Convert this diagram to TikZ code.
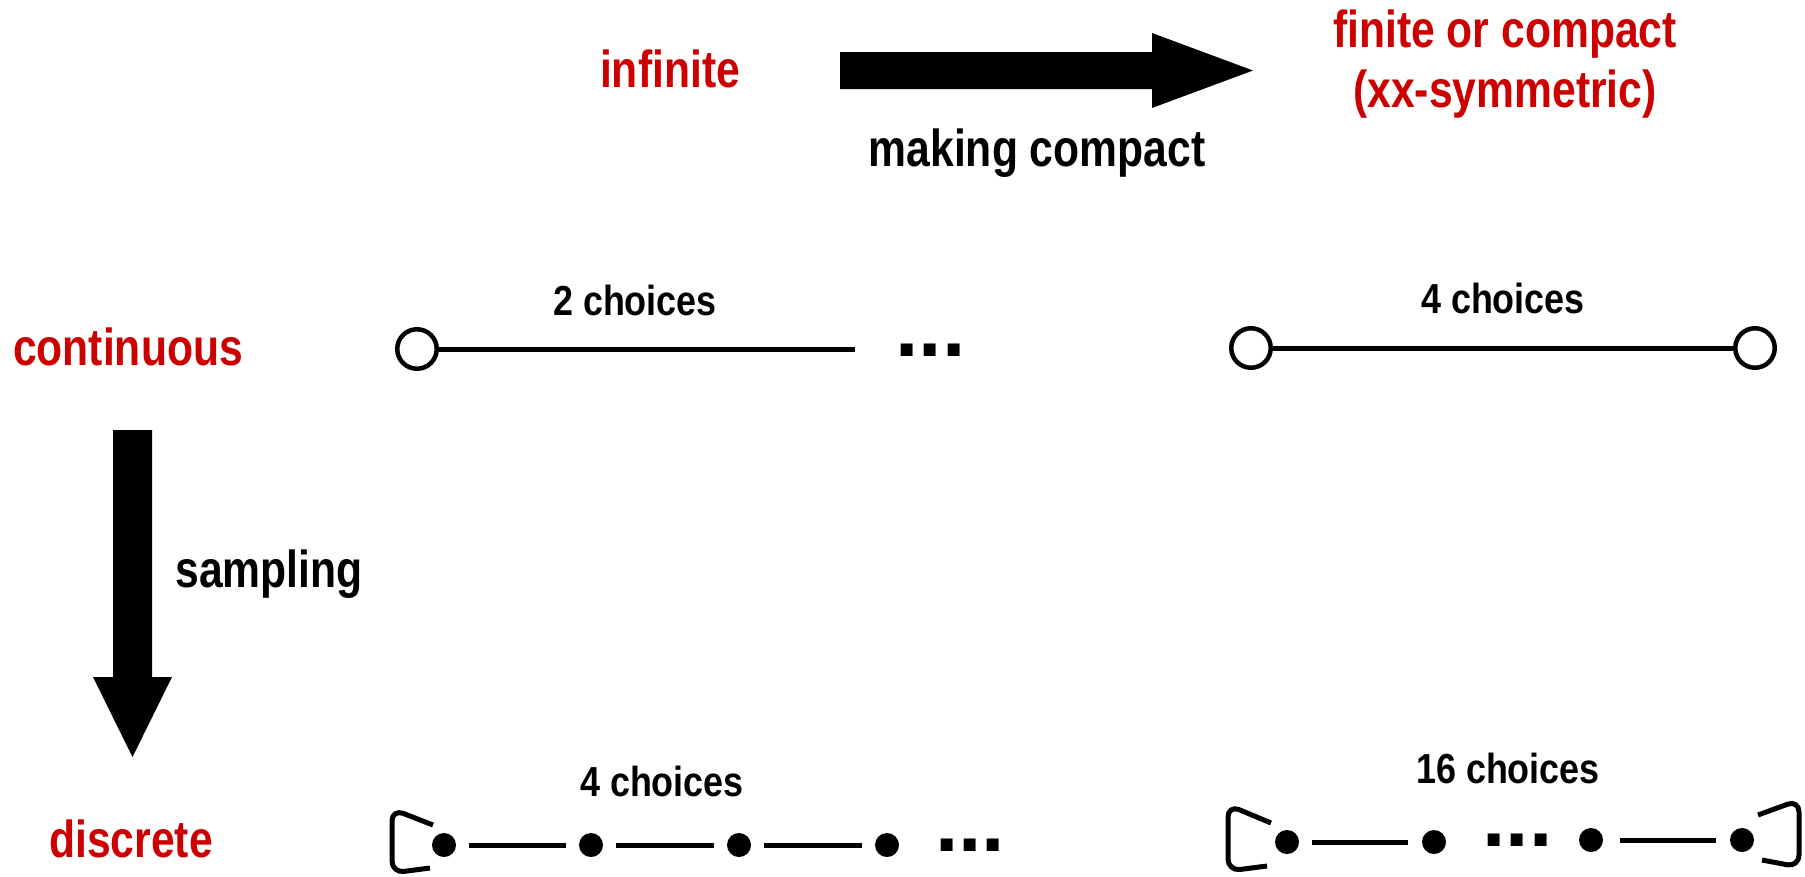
\documentclass[tikz,border=0pt]{standalone}
\usepackage{fontspec}
\setmainfont{Liberation Sans}
\newfontfamily\bigfont{Liberation Sans}[FakeStretch=0.82]
\newfontfamily\smallfont{Liberation Sans}[FakeStretch=0.855]
\usetikzlibrary{shapes.geometric}
\definecolor{lblred}{RGB}{204,0,0}
\tikzset{
  redlbl/.style={text=lblred, font=\bigfont\bfseries\fontsize{52}{60}\selectfont, inner sep=0, anchor=base, align=center},
  blacklbl/.style={font=\bigfont\bfseries\fontsize{52}{60}\selectfont, inner sep=0, anchor=base},
  choicelbl/.style={font=\smallfont\bfseries\fontsize{42}{46}\selectfont, inner sep=0, anchor=base},
  ellipsislbl/.style={font=\bfseries\fontsize{84}{90}\selectfont, inner sep=0, anchor=base, text height=12pt, text depth=0pt},
  opennode/.style={draw, circle, line width=4.5pt, minimum size=39.5pt, inner sep=0, fill=white},
  dotnode/.style={fill, circle, minimum size=24pt, inner sep=0, outer sep=0},
  edgeline/.style={line width=5pt},
  gapline/.style={line width=5pt, shorten <=13pt, shorten >=13pt},
  selfloop/.style={line width=5pt, rounded corners=12pt},
  blockarrow/.style={fill=black}
}
\begin{document}
\begin{tikzpicture}[x=1pt,y=-1pt]
\useasboundingbox (0,0) rectangle (1805,876);

% headers
\node[redlbl] (inf) at (670,87) {infinite};
\node[redlbl, anchor=north] (fin) at (1505,10) {finite or compact\\(xx-symmetric)};
\node[blacklbl] (mc) at (1037,166) {making compact};
\node[redlbl] (cont) at (128,365) {continuous};
\node[redlbl] (disc) at (131,857) {discrete};
\node[blacklbl] (samp) at (269,587) {sampling};

% block arrows
\fill[blockarrow] (840,52) -- (1152,52) -- (1152,33) -- (1253,70.5) -- (1152,108) -- (1152,89) -- (840,89) -- cycle;
\fill[blockarrow] (113,430) -- (152,430) -- (152,677) -- (172,677) -- (132.5,757) -- (93,677) -- (113,677) -- cycle;

% continuous infinite
\node[choicelbl] (l2) at (635,315) {2 choices};
\node[opennode] (c1) at (417,349) {};
\coordinate (c1end) at (854.5,349);
\draw[edgeline] (c1) -- (c1end);
\node[ellipsislbl] (el1) at (930.5,356) {...};

% continuous compact
\node[choicelbl] (l4a) at (1503,313) {4 choices};
\node[opennode] (c2) at (1251,348) {};
\node[opennode] (c3) at (1755,348) {};
\draw[edgeline] (c2) -- (c3);

% discrete infinite
\node[choicelbl] (l4b) at (662,796) {4 choices};
\node[dotnode] (d1) at (444,845) {};
\node[dotnode] (d2) at (591,845) {};
\node[dotnode] (d3) at (739,845) {};
\node[dotnode] (d4) at (887,845) {};
\draw[gapline] (d1) -- (d2);
\draw[gapline] (d2) -- (d3);
\draw[gapline] (d3) -- (d4);
\node[ellipsislbl] (el2) at (970,851) {...};
\draw[selfloop] ([shift={(-11,-20)}]d1.center) -- ([shift={(-52,-36)}]d1.center) -- ([shift={(-52,28)}]d1.center) -- ([shift={(-14,23)}]d1.center);

% discrete compact
\node[choicelbl] (l16) at (1508,783) {16 choices};
\node[dotnode] (e1) at (1287,842) {};
\node[dotnode] (e2) at (1434,842) {};
\node[dotnode] (e3) at (1591,840) {};
\node[dotnode] (e4) at (1742,840) {};
\draw[gapline, shorten >=14pt] (e1) -- (e2);
\draw[gapline, shorten <=17pt, shorten >=14pt] (e3) -- (e4);
\node[ellipsislbl] (el3) at (1517.5,846) {...};
\draw[selfloop] ([shift={(-16,-19)}]e1.center) -- ([shift={(-59,-37)}]e1.center) -- ([shift={(-59,29)}]e1.center) -- ([shift={(-20,24)}]e1.center);
\draw[selfloop] ([shift={(16,-25)}]e4.center) -- ([shift={(57,-40)}]e4.center) -- ([shift={(57,27)}]e4.center) -- ([shift={(20,20)}]e4.center);
\end{tikzpicture}
\end{document}
